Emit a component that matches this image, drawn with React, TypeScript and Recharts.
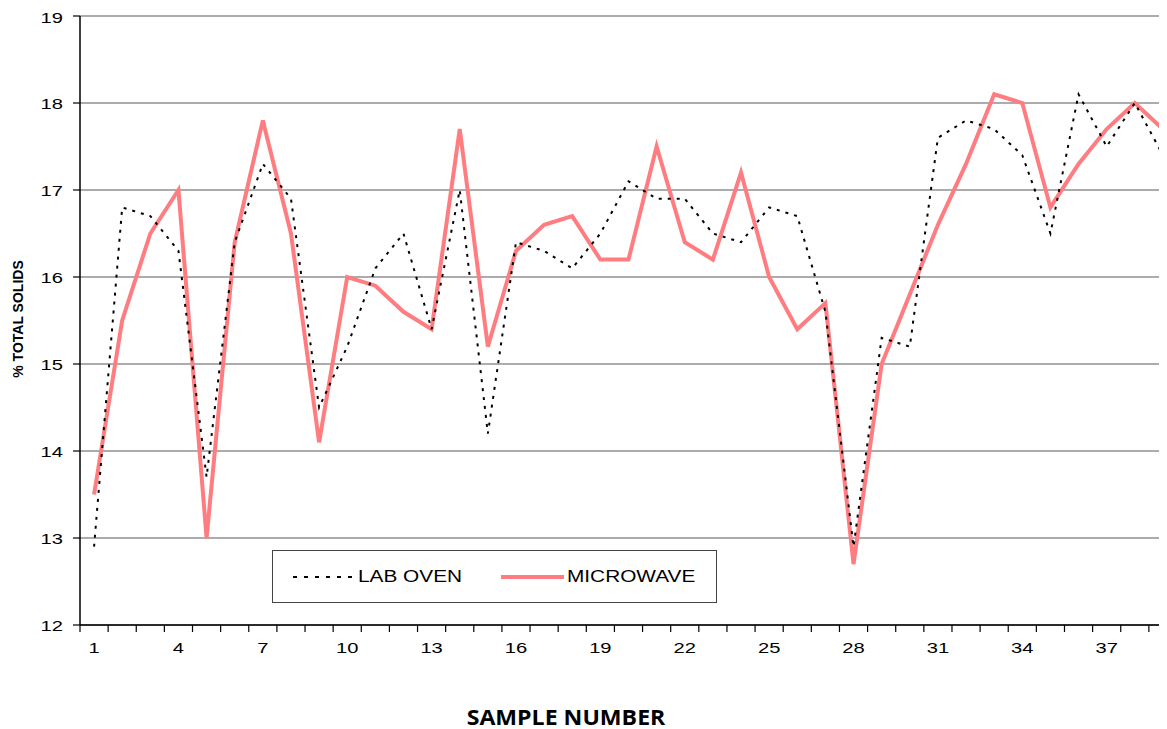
import React from 'react';
import { LineChart, Line, XAxis, YAxis, CartesianGrid, Legend } from 'recharts';

const samples = [
  '1', '2', '3', '4', '5', '6', '7', '8', '9', '10',
  '11', '12', '13', '14', '15', '16', '17', '18', '19', '20',
  '21', '22', '23', '24', '25', '26', '27', '28', '29', '30',
  '31', '32', '33', '34', '35', '36', '37', '38', '39',
];

const labOven = [
  12.9, 16.8, 16.7, 16.3, 13.7, 16.4, 17.3, 16.9, 14.5, 15.2,
  16.1, 16.5, 15.4, 17.0, 14.2, 16.4, 16.3, 16.1, 16.5, 17.1,
  16.9, 16.9, 16.5, 16.4, 16.8, 16.7, 15.6, 12.9, 15.3, 15.2,
  17.6, 17.8, 17.7, 17.4, 16.5, 18.1, 17.5, 18.0, 17.4,
];

const microwave = [
  13.5, 15.5, 16.5, 17.0, 13.0, 16.4, 17.8, 16.5, 14.1, 16.0,
  15.9, 15.6, 15.4, 17.7, 15.2, 16.3, 16.6, 16.7, 16.2, 16.2,
  17.5, 16.4, 16.2, 17.2, 16.0, 15.4, 15.7, 12.7, 15.0, 15.8,
  16.6, 17.3, 18.1, 18.0, 16.8, 17.3, 17.7, 18.0, 17.7,
];

const xTickLabels = ['1', '4', '7', '10', '13', '16', '19', '22', '25', '28', '31', '34', '37'];
const yTicks = [12, 13, 14, 15, 16, 17, 18, 19];

const chartData = samples.map((s, i) => ({
  sample: s,
  labOven: labOven[i],
  microwave: microwave[i],
}));

// plot runs a little past the right edge of the page, like the original
const CHART_W = 1180;
const CHART_H = 721;
const MARGIN = { top: 8, right: 11, bottom: 1, left: 0 };
const Y_AXIS_W = 72;
const PLOT_W = CHART_W - MARGIN.left - MARGIN.right - Y_AXIS_W;
const BAND = PLOT_W / samples.length;

// the source text is drawn horizontally stretched
const STRETCH = 1.3;
const ARIAL = '"Liberation Sans", Arial, sans-serif';
const PINK = '#FF7C80';

const seriesStyle: Record<string, { stroke: string; width: number; dash?: string }> = {
  labOven: { stroke: '#000', width: 2, dash: '4 7' },
  microwave: { stroke: PINK, width: 4 },
};
const legendOrder = ['labOven', 'microwave'];
const legendSlots = [
  { sample: 20, text: 85 },
  { sample: 228, text: 294 },
];

function XTick({ x, y, payload, index }: any) {
  const left = x - BAND / 2;
  return (
    <g>
      <line x1={left} x2={left} y1={y} y2={y + 7} stroke="#000" strokeWidth={1.2} />
      {index === samples.length - 1 && (
        <line x1={x + BAND / 2} x2={x + BAND / 2} y1={y} y2={y + 7} stroke="#000" strokeWidth={1.2} />
      )}
      {xTickLabels.includes(payload.value) && (
        <text
          transform={`translate(${x},${y + 28}) scale(${STRETCH},1)`}
          textAnchor="middle"
          fontSize={15.5}
          fontFamily={ARIAL}
          fill="#000"
        >
          {payload.value}
        </text>
      )}
    </g>
  );
}

function YTick({ x, y, payload }: any) {
  return (
    <text
      transform={`translate(${x},${y}) scale(${STRETCH},1)`}
      textAnchor="end"
      dy="0.36em"
      fontSize={15.5}
      fontFamily={ARIAL}
      fill="#000"
    >
      {payload.value}
    </text>
  );
}

function LegendBox({ payload }: any) {
  const items = [...(payload || [])].sort(
    (a: any, b: any) => legendOrder.indexOf(a.dataKey) - legendOrder.indexOf(b.dataKey)
  );
  return (
    <div
      style={{
        position: 'relative',
        width: 445,
        height: 53,
        boxSizing: 'border-box',
        border: '1.5px solid #444',
        background: '#fff',
      }}
    >
      {items.map((item: any, i: number) => {
        const st = seriesStyle[item.dataKey];
        const slot = legendSlots[i];
        return (
          <React.Fragment key={item.dataKey}>
            <svg
              width={63}
              height={8}
              style={{ position: 'absolute', left: slot.sample, top: 22 }}
            >
              <line
                x1={0}
                x2={63}
                y1={4}
                y2={4}
                stroke={st.stroke}
                strokeWidth={st.width}
                strokeDasharray={st.dash}
              />
            </svg>
            <span
              style={{
                position: 'absolute',
                left: slot.text,
                top: 17,
                fontFamily: ARIAL,
                fontSize: 16,
                lineHeight: '18px',
                color: '#000',
                whiteSpace: 'nowrap',
                transform: `scaleX(${STRETCH})`,
                transformOrigin: 'left center',
              }}
            >
              {item.value}
            </span>
          </React.Fragment>
        );
      })}
    </div>
  );
}

export default function App() {
  return (
    <div style={{ position: 'relative', width: CHART_W, height: CHART_H, background: '#fff' }}>
      <style>{'html,body{overflow:hidden}'}</style>
      <LineChart width={CHART_W} height={CHART_H} data={chartData} margin={MARGIN}>
        <CartesianGrid vertical={false} stroke="#5a5a5a" strokeWidth={1.2} />
        <XAxis
          dataKey="sample"
          interval={0}
          height={103}
          tickSize={0}
          tickMargin={0}
          tickLine={false}
          tick={<XTick />}
          padding={{ left: BAND / 2, right: BAND / 2 }}
          axisLine={{ stroke: '#000', strokeWidth: 1.5 }}
        />
        <YAxis
          type="number"
          domain={[12, 19]}
          ticks={yTicks}
          width={Y_AXIS_W}
          tickSize={7}
          tickMargin={10}
          tick={<YTick />}
          tickLine={{ stroke: '#000', strokeWidth: 1.2 }}
          axisLine={{ stroke: '#000', strokeWidth: 1.5 }}
          allowDataOverflow
        />
        <Legend
          layout="vertical"
          align="center"
          verticalAlign="middle"
          width={445}
          height={53}
          wrapperStyle={{ left: 264, top: 542, width: 445, height: 53 }}
          content={<LegendBox />}
        />
        <Line
          type="linear"
          dataKey="microwave"
          name="MICROWAVE"
          stroke={PINK}
          strokeWidth={4}
          dot={false}
          activeDot={false}
          isAnimationActive={false}
        />
        <Line
          type="linear"
          dataKey="labOven"
          name="LAB OVEN"
          stroke="#000"
          strokeWidth={2}
          strokeDasharray="3 6"
          dot={false}
          activeDot={false}
          isAnimationActive={false}
        />
      </LineChart>
      <div
        style={{
          position: 'absolute',
          left: 10,
          top: 311,
          transform: 'translate(-50%, -50%) rotate(-90deg)',
          whiteSpace: 'nowrap',
          fontFamily: ARIAL,
          fontWeight: 'bold',
          fontSize: 14,
          lineHeight: 1,
          color: '#000',
        }}
      >
        % TOTAL SOLIDS
      </div>
      <div
        style={{
          position: 'absolute',
          left: 558,
          top: 709,
          transform: 'translate(-50%, -50%) scaleX(1.1)',
          whiteSpace: 'nowrap',
          fontFamily: '"Open Sans", sans-serif',
          fontWeight: 'bold',
          fontSize: 21,
          lineHeight: 1,
          color: '#000',
        }}
      >
        SAMPLE NUMBER
      </div>
    </div>
  );
}
